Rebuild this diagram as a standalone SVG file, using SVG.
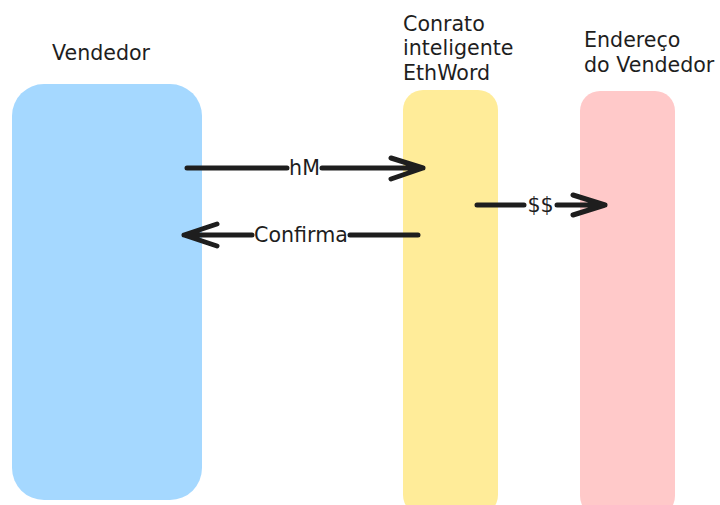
<svg xmlns="http://www.w3.org/2000/svg" width="720" height="505" viewBox="0 0 720 505">
<style>
text{font-family:"DejaVu Sans",sans-serif;font-size:20.6px;fill:#1e1e1e}
.c{stroke:#1e1e1e;stroke-width:5;fill:none;stroke-linecap:round;stroke-linejoin:round}
</style>
<rect width="720" height="505" fill="#ffffff"/>
<g id="vendedor">
<rect x="12" y="84" width="190" height="416" rx="32" fill="#a5d8ff"/>
<text x="52" y="60">Vendedor</text>
</g>
<g id="contrato">
<rect x="403" y="90" width="95" height="425" rx="20" fill="#ffec99"/>
<text x="403" y="31">Conrato</text>
<text x="403" y="55">inteligente</text>
<text x="403" y="80">EthWord</text>
</g>
<g id="endereco">
<rect x="580" y="91" width="95" height="425" rx="20" fill="#ffc9c9"/>
<text x="584" y="47">Endereço</text>
<text x="584" y="72">do Vendedor</text>
</g>
<g id="connectors">
<path class="c" d="M187 168H287M322 168H423M391 158L423 168L391 179"/>
<text x="304.5" y="175" text-anchor="middle">hM</text>
<path class="c" d="M418 235H350M252 235H184M217 224L184 235L217 246"/>
<text x="301" y="242" text-anchor="middle">Confirma</text>
<path class="c" d="M477 205H524M557 205H605M573 195L605 205L573 215"/>
<text x="540.5" y="212" text-anchor="middle">$$</text>
</g>
</svg>
